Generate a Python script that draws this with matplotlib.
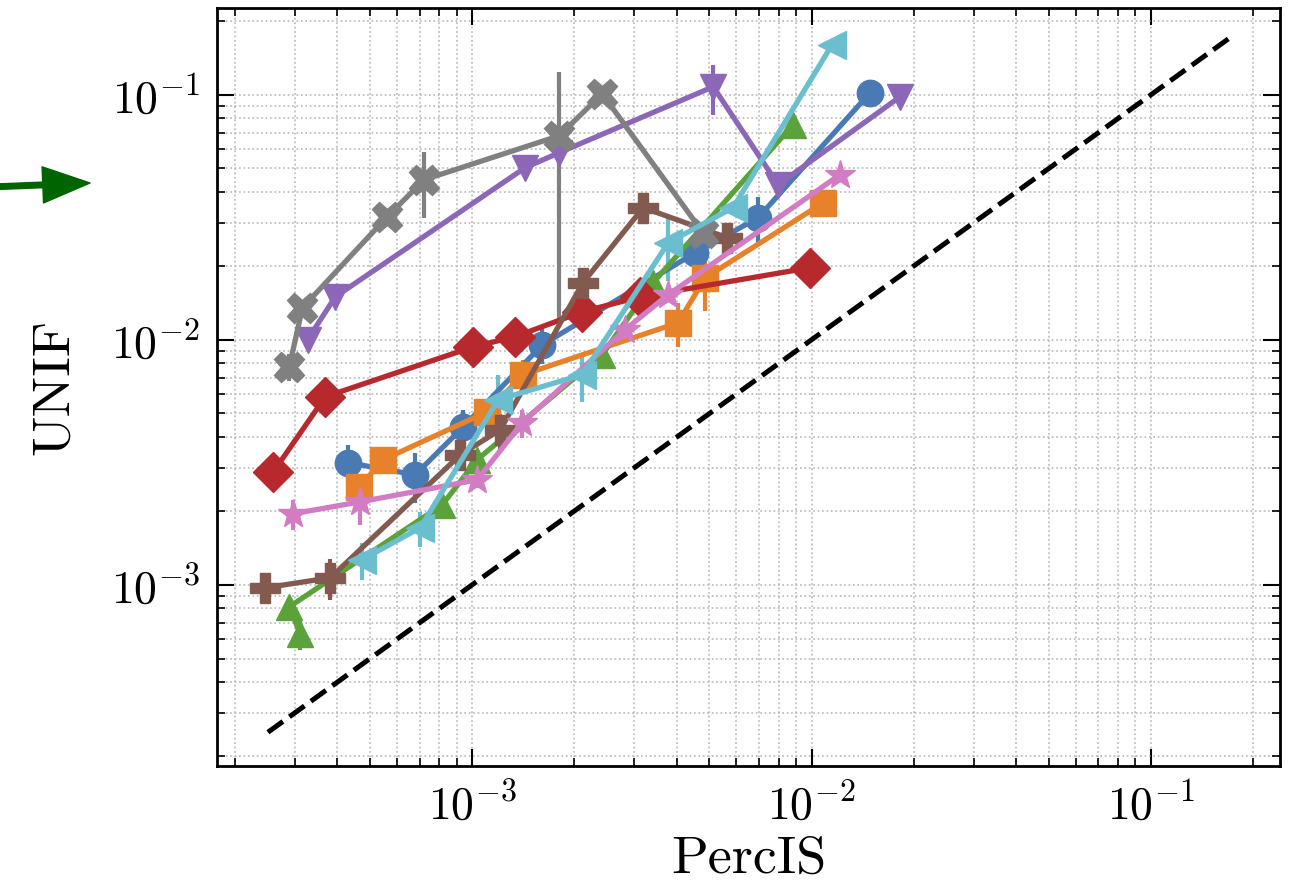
import numpy as np
import matplotlib
matplotlib.use("Agg")
import matplotlib.pyplot as plt

plt.rcParams['mathtext.fontset'] = 'cm'
plt.rcParams['font.family'] = 'serif'
plt.rcParams['font.serif'] = ['cmr10', 'DejaVu Serif']
plt.rcParams['axes.formatter.use_mathtext'] = True

# datos (PercIS vs UNIF)
blue_x = [4.31e-4, 6.79e-4, 9.41e-4, 1.61e-3, 4.54e-3, 6.96e-3, 1.487e-2]
blue_y = [3.15e-3, 2.81e-3, 4.41e-3, 9.54e-3, 2.265e-2, 3.15e-2, 0.1019]
blue_e = [0.58e-3, 0.65e-3, 0.77e-3, 1.6e-3, 1.0e-3, 6.8e-3, 0]

orange_x = [4.65e-4, 5.47e-4, 1.107e-3, 1.413e-3, 4.04e-3, 4.86e-3, 1.081e-2]
orange_y = [2.51e-3, 3.24e-3, 5.08e-3, 7.20e-3, 1.173e-2, 1.79e-2, 3.62e-2]
orange_e = [0.3e-3, 0.2e-3, 0.4e-3, 1.1e-3, 2.4e-3, 4.8e-3, 0]

green_x = [3.11e-4, 2.89e-4, 8.16e-4, 1.034e-3, 2.415e-3, 3.41e-3, 8.82e-3]
green_y = [6.31e-4, 8.13e-4, 2.12e-3, 3.24e-3, 8.69e-3, 1.709e-2, 7.54e-2]
green_e = [0.9e-4, 0.3e-4, 0.2e-3, 0.3e-3, 0.8e-3, 1.5e-3, 0]

red_x = [2.594e-4, 3.69e-4, 1.007e-3, 1.338e-3, 2.11e-3, 3.13e-3, 9.9e-3]
red_y = [2.89e-3, 5.85e-3, 9.36e-3, 1.029e-2, 1.301e-2, 1.498e-2, 1.967e-2]
red_e = [0, 0, 0, 0, 0, 0, 0]

purple_x = [3.27e-4, 3.95e-4, 1.432e-3, 1.804e-3, 5.13e-3, 7.97e-3, 1.823e-2]
purple_y = [1.0e-2, 1.498e-2, 5.04e-2, 5.80e-2, 0.1078, 4.29e-2, 9.81e-2]
purple_e = [0, 0, 0, 0, 0.025, 0, 0]

brown_x = [2.457e-4, 3.82e-4, 9.22e-4, 1.209e-3, 2.12e-3, 3.19e-3, 5.64e-3]
brown_y = [9.72e-4, 1.068e-3, 3.39e-3, 4.29e-3, 1.709e-2, 3.46e-2, 2.61e-2]
brown_e = [0, 2e-4, 4e-4, 7e-4, 1e-3, 0, 1e-3]

pink_x = [2.97e-4, 4.68e-4, 1.034e-3, 1.404e-3, 2.82e-3, 3.78e-3, 1.213e-2]
pink_y = [1.95e-3, 2.18e-3, 2.68e-3, 4.58e-3, 1.099e-2, 1.527e-2, 4.72e-2]
pink_e = [0.27e-3, 0.43e-3, 0.2e-3, 0.6e-3, 0.5e-3, 0.8e-3, 0]

gray_x = [2.89e-4, 3.16e-4, 5.62e-4, 7.22e-4, 1.804e-3, 2.415e-3, 4.79e-3]
gray_y = [7.76e-3, 1.351e-2, 3.18e-2, 4.50e-2, 6.80e-2, 0.1009, 2.73e-2]
gray_e = [0.95e-3, 0.5e-3, 0, 1.35e-2, 0.056, 0, 0]

cyan_x = [4.74e-4, 7.03e-4, 1.193e-3, 2.11e-3, 3.78e-3, 5.87e-3, 1.149e-2]
cyan_y = [1.265e-3, 1.709e-3, 5.69e-3, 7.20e-3, 2.488e-2, 3.46e-2, 0.16]
cyan_e = [0.22e-3, 0.28e-3, 1.5e-3, 1.65e-3, 7.5e-3, 0, 0]

diag = [2.5e-4, 0.17]   # linea y = x

# (x, y, err, marcador, color, tamano)
series = [
    (blue_x, blue_y, blue_e, 'o', '#4a7ab4', 19),
    (orange_x, orange_y, orange_e, 's', '#e8822a', 19),
    (green_x, green_y, green_e, '^', '#5ba23a', 19),
    (red_x, red_y, red_e, 'D', '#b8292d', 20),
    (purple_x, purple_y, purple_e, 'v', '#8c67b8', 19),
    (brown_x, brown_y, brown_e, 'P', '#835a50', 22),
    (pink_x, pink_y, pink_e, '*', '#d27cc3', 22),
    (gray_x, gray_y, gray_e, 'X', '#808080', 22),
    (cyan_x, cyan_y, cyan_e, '<', '#6bbece', 20),
]

fig = plt.figure(figsize=(12.95, 8.86), dpi=100)
ax = fig.add_axes([0.1676, 0.1354, 0.8208, 0.8556])

for x, y, e, m, c, ms in series:
    ax.errorbar(x, y, yerr=e, fmt='-' + m, color=c, lw=3.8, elinewidth=3.0,
                ms=ms, capsize=0)

ax.plot(diag, diag, '--', color='black', lw=3.6)

ax.set_xscale('log')
ax.set_yscale('log')
ax.set_xlim(1.77e-4, 0.24)
ax.set_ylim(1.82e-4, 0.226)

ax.grid(True, which='both', ls=':', color='#b8b8b8', lw=1.2)
ax.tick_params(which='both', direction='in', top=True, right=True,
               labelsize=33, pad=12)
ax.tick_params(which='major', length=12, width=1.5)
ax.tick_params(which='minor', length=6, width=1.2)
for s in ax.spines.values():
    s.set_linewidth(2)

ax.set_xlabel('PercIS', fontsize=39, labelpad=5)
ax.set_ylabel('UNIF', fontsize=39, labelpad=24)

# flecha verde fuera de los ejes
ax.annotate('', xy=(90 / 1295, 1 - 183 / 886), xycoords='figure fraction',
            xytext=(-10 / 1295, 1 - 187 / 886), textcoords='figure fraction',
            arrowprops=dict(facecolor='darkgreen', edgecolor='darkgreen',
                            width=4, headwidth=26, headlength=34),
            annotation_clip=False)

fig.savefig('out.png', dpi=100)
